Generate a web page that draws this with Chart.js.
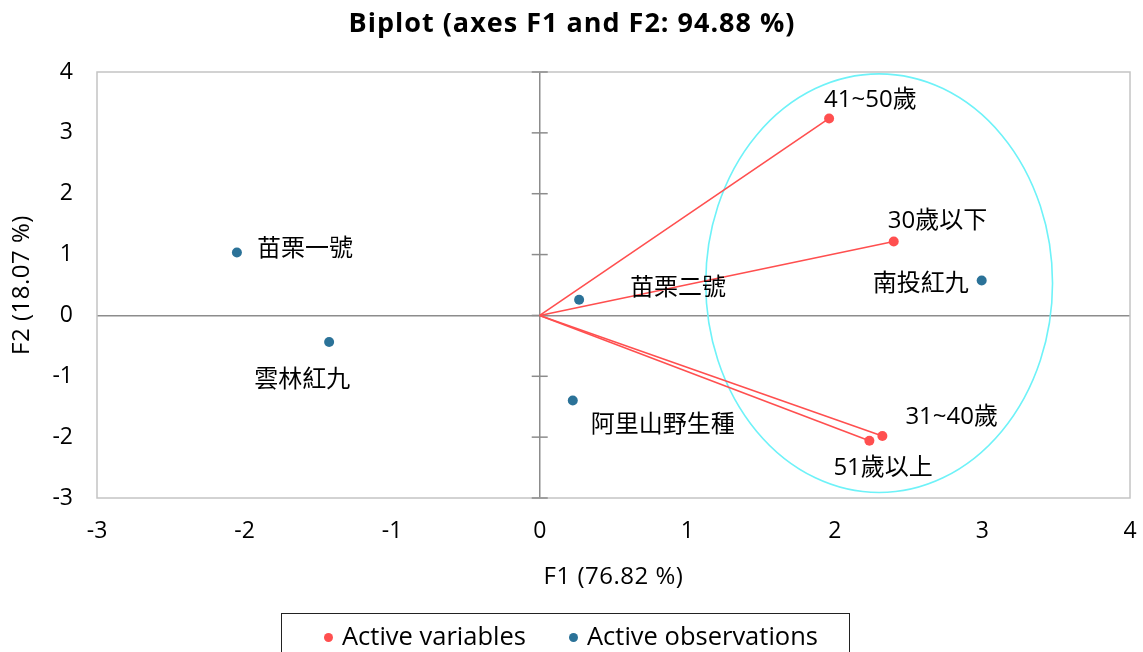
<!DOCTYPE html>
<html>
<head>
<meta charset="utf-8">
<script src="https://cdn.jsdelivr.net/npm/chart.js@4.4.1/dist/chart.umd.min.js"></script>
<style>
  html, body { margin: 0; padding: 0; background: #fff; }
  #wrap { position: relative; width: 1143px; height: 652px; overflow: hidden; }
  #legend { position: absolute; left: 281px; top: 613px; width: 569px; height: 60px;
    border: 1.5px solid #222; box-sizing: border-box; font-family: "Open Sans", "Noto Sans CJK TC", sans-serif;
    font-size: 25.5px; color: #000; }
  .li { position: absolute; top: 1px; line-height: 40px; white-space: nowrap; }
  .dot { display: inline-block; width: 9px; height: 9px; border-radius: 50%; margin-right: 9px; vertical-align: 3px; }
</style>
</head>
<body>
<div id="wrap">
  <canvas id="c" width="1143" height="652"></canvas>
  <div id="legend">
    <div class="li" style="left:42px"><span class="dot" style="background:#FF4F4F"></span>Active variables</div>
    <div class="li" style="left:287px"><span class="dot" style="background:#2B7298"></span>Active observations</div>
  </div>
</div>
<script>
// ---- data ----
const varNames = ["41~50歲", "30歲以下", "31~40歲", "51歲以上"];
const varF1 = [1.961, 2.399, 2.322, 2.234];
const varF2 = [3.237, 1.216, -1.982, -2.059];

const obsNames = ["苗栗一號", "雲林紅九", "苗栗二號", "阿里山野生種", "南投紅九"];
const obsF1 = [-2.052, -1.427, 0.267, 0.224, 2.995];
const obsF2 = [1.035, -0.437, 0.258, -1.397, 0.575];

const xTicks = [-3, -2, -1, 0, 1, 2, 3, 4];
const yTicks = [-3, -2, -1, 0, 1, 2, 3, 4];

const ellipseCenter = [2.30, 0.53];
const ellipseRadii = [1.175, 3.44];

const titleText = "Biplot (axes F1 and F2: 94.88 %)";
const xTitle = "F1 (76.82 %)";
const yTitle = "F2 (18.07 %)";

// ---- label placement (pixel offsets from the point) ----
const varLabelOffsets = [[-5, -18, 'left'], [-6, -20, 'left'], [23, -19, 'left'], [-36, 27, 'left']];
const obsLabelOffsets = [[20, -3, 'left'], [-75, 38, 'left'], [51, -12, 'left'], [18, 25, 'left'], [-13, 4, 'right']];

const RED = '#FF4F4F', BLUE = '#2B7298', CYAN = '#6EF2F8';
const FONT = '"Open Sans", "Noto Sans CJK TC", sans-serif';

const datasets = [];
varNames.forEach((n, i) => {
  datasets.push({
    label: n, type: 'line', showLine: true,
    data: [{x: 0, y: 0}, {x: varF1[i], y: varF2[i]}],
    borderColor: RED, borderWidth: 1.6, backgroundColor: RED,
    pointRadius: [0, 5], pointHoverRadius: [0, 5], pointBorderWidth: 0, fill: false, order: 2
  });
});
datasets.push({
  label: 'obs', type: 'scatter',
  data: obsF1.map((x, i) => ({x, y: obsF2[i]})),
  backgroundColor: BLUE, borderColor: BLUE, pointRadius: 5, pointBorderWidth: 0, order: 1
});

const decor = {
  id: 'decor',
  beforeDatasetsDraw(chart) {
    const {ctx, chartArea: a, scales: {x, y}} = chart;
    ctx.save();
    ctx.strokeStyle = '#C4C4C4'; ctx.lineWidth = 1.5;
    ctx.strokeRect(a.left, a.top, a.right - a.left, a.bottom - a.top);
    const x0 = x.getPixelForValue(0);
    ctx.strokeStyle = '#8C8C8C'; ctx.lineWidth = 1.5;
    yTicks.forEach(v => {
      const py = y.getPixelForValue(v);
      ctx.beginPath(); ctx.moveTo(x0 - 8, py); ctx.lineTo(x0 + 8, py); ctx.stroke();
    });
    const cx = x.getPixelForValue(ellipseCenter[0]), cy = y.getPixelForValue(ellipseCenter[1]);
    const rx = x.getPixelForValue(ellipseCenter[0] + ellipseRadii[0]) - cx;
    const ry = cy - y.getPixelForValue(ellipseCenter[1] + ellipseRadii[1]);
    ctx.strokeStyle = CYAN; ctx.lineWidth = 1.6;
    ctx.beginPath(); ctx.ellipse(cx, cy, rx, ry, 0, 0, Math.PI * 2); ctx.stroke();
    ctx.restore();
  },
  afterDraw(chart) {
    const {ctx, chartArea: a, scales: {x, y}} = chart;
    ctx.save();
    ctx.fillStyle = '#000';
    ctx.font = 'bold 27px ' + FONT; ctx.textAlign = 'center'; ctx.textBaseline = 'middle';
    if ('letterSpacing' in ctx) ctx.letterSpacing = '1px';
    ctx.fillText(titleText, 572, 24);
    if ('letterSpacing' in ctx) ctx.letterSpacing = '0.5px';
    ctx.font = '24px ' + FONT;
    ctx.fillText(xTitle, (a.left + a.right) / 2, 577);
    ctx.save();
    ctx.translate(22, (a.top + a.bottom) / 2); ctx.rotate(-Math.PI / 2);
    ctx.fillText(yTitle, 0, 0);
    ctx.restore();
    if ('letterSpacing' in ctx) ctx.letterSpacing = '0px';
    ctx.font = '24px ' + FONT; ctx.textBaseline = 'middle';
    varNames.forEach((n, i) => {
      const o = varLabelOffsets[i];
      ctx.textAlign = o[2];
      ctx.fillText(n, x.getPixelForValue(varF1[i]) + o[0], y.getPixelForValue(varF2[i]) + o[1]);
    });
    obsNames.forEach((n, i) => {
      const o = obsLabelOffsets[i];
      ctx.textAlign = o[2];
      ctx.fillText(n, x.getPixelForValue(obsF1[i]) + o[0], y.getPixelForValue(obsF2[i]) + o[1]);
    });
    ctx.restore();
  }
};

const gridOpts = {
  color: c => (c.tick && c.tick.value === 0) ? '#8C8C8C' : 'rgba(0,0,0,0)',
  lineWidth: 1.5, drawTicks: false
};

new Chart(document.getElementById('c'), {
  type: 'scatter',
  data: { datasets },
  options: {
    responsive: false, animation: false, devicePixelRatio: 1,
    layout: { padding: { left: 0, top: 72, right: 13, bottom: 0 } },
    plugins: { legend: { display: false }, title: { display: false }, tooltip: { enabled: false } },
    events: [],
    scales: {
      x: {
        type: 'linear', min: -3, max: 4,
        afterBuildTicks: s => { s.ticks = xTicks.map(v => ({value: v})); },
        afterFit: s => { s.height = 154; s.paddingLeft = 0; s.paddingRight = 0; },
        ticks: { color: '#000', font: { family: FONT, size: 23 }, padding: 20, maxRotation: 0 },
        grid: gridOpts, border: { display: false }
      },
      y: {
        type: 'linear', min: -3, max: 4,
        afterBuildTicks: s => { s.ticks = yTicks.map(v => ({value: v})); },
        afterFit: s => { s.width = 97; s.paddingTop = 0; s.paddingBottom = 0; },
        ticks: { color: '#000', font: { family: FONT, size: 23 }, padding: 24 },
        grid: gridOpts, border: { display: false }
      }
    }
  },
  plugins: [decor]
});
</script>
</body>
</html>
